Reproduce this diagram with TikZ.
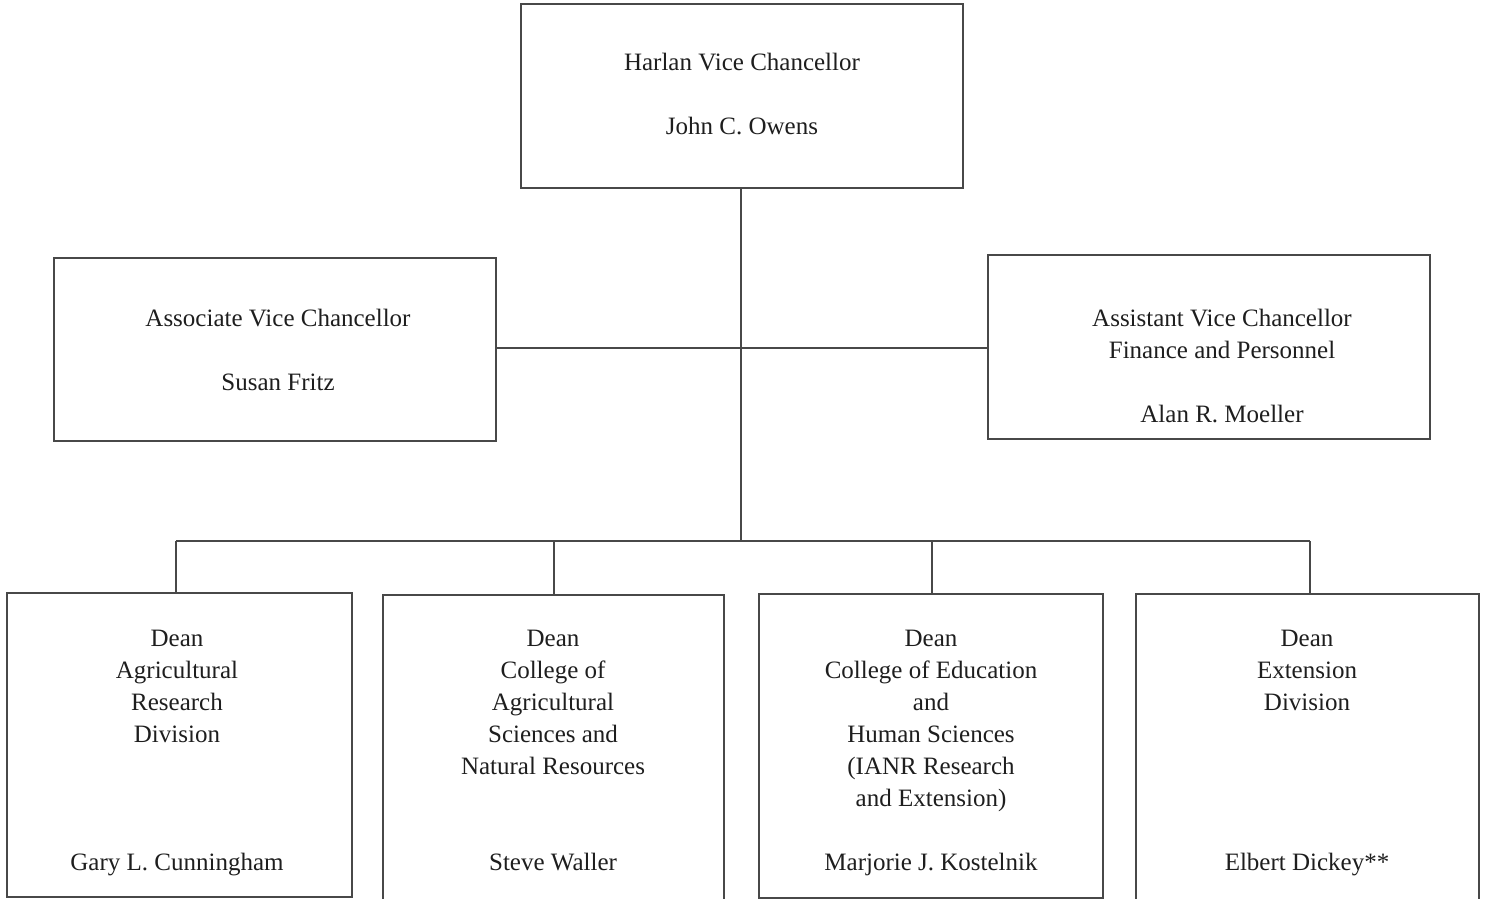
\documentclass[tikz,border=0pt]{standalone}
\usepackage{fontspec}
\setmainfont{Liberation Serif}
\begin{document}
\begin{tikzpicture}[x=1pt,y=-1pt,
  line/.style={draw={rgb,255:red,72;green,72;blue,72},line width=1.3pt},
  box/.style={line,rectangle,inner sep=0pt,outer sep=0pt},
  txt/.style={anchor=base,inner sep=0pt,text={rgb,255:red,30;green,30;blue,30},font=\fontsize{25}{32}\selectfont}]
\useasboundingbox (0,0) rectangle (1485,898);
% boxes
\node[box,minimum width=442pt,minimum height=184pt] (top) at (742,96) {};
\node[box,minimum width=442pt,minimum height=183pt] (left) at (275,349.5) {};
\node[box,minimum width=442pt,minimum height=184pt] (right) at (1209,347) {};
\node[box,minimum width=345pt,minimum height=304pt] (b1) at (179.5,745) {};
\node[box,minimum width=341pt,minimum height=310pt] (b2) at (553.5,750) {};
\node[box,minimum width=344pt,minimum height=304pt] (b3) at (931,746) {};
\node[box,minimum width=343pt,minimum height=310pt] (b4) at (1307.5,749) {};
% texts
\node[txt] (t1) at (742,70) {Harlan Vice Chancellor};
\node[txt] (t2) at (742,134) {John C. Owens};
\node[txt] (l1) at (278,326) {Associate Vice Chancellor};
\node[txt] (l2) at (278,390) {Susan Fritz};
\node[txt] (r1) at (1222,326) {Assistant Vice Chancellor};
\node[txt] (r2) at (1222,358) {Finance and Personnel};
\node[txt] (r3) at (1222,422) {Alan R. Moeller};
\foreach \t [count=\i from 0] in {{Dean},{Agricultural},{Research},{Division}}
  \node[txt] (b1l\i) at (177,646+32*\i) {\t};
\node[txt] (b1n) at (177,870) {Gary L. Cunningham};
\foreach \t [count=\i from 0] in {{Dean},{College of},{Agricultural},{Sciences and},{Natural Resources}}
  \node[txt] (b2l\i) at (553,646+32*\i) {\t};
\node[txt] (b2n) at (553,870) {Steve Waller};
\foreach \t [count=\i from 0] in {{Dean},{College of Education},{and},{Human Sciences},{(IANR Research},{and Extension)}}
  \node[txt] (b3l\i) at (931,646+32*\i) {\t};
\node[txt] (b3n) at (931,870) {Marjorie J. Kostelnik};
\foreach \t [count=\i from 0] in {{Dean},{Extension},{Division}}
  \node[txt] (b4l\i) at (1307,646+32*\i) {\t};
\node[txt] (b4n) at (1307,870) {Elbert Dickey**};
% connectors
\coordinate (hub) at (741,348);
\coordinate (bus) at (741,541);
\coordinate (d1) at (176,541);
\coordinate (d2) at (554,541);
\coordinate (d3) at (932,541);
\coordinate (d4) at (1310,541);
\draw[line] (top.south -| hub) -- (bus);
\draw[line] (left.east |- hub) -- (right.west |- hub);
\draw[line] (d1) -- (d4);
\draw[line] (d1) -- (d1 |- b1.north);
\draw[line] (d2) -- (d2 |- b2.north);
\draw[line] (d3) -- (d3 |- b3.north);
\draw[line] (d4) -- (d4 |- b4.north);
\end{tikzpicture}
\end{document}
